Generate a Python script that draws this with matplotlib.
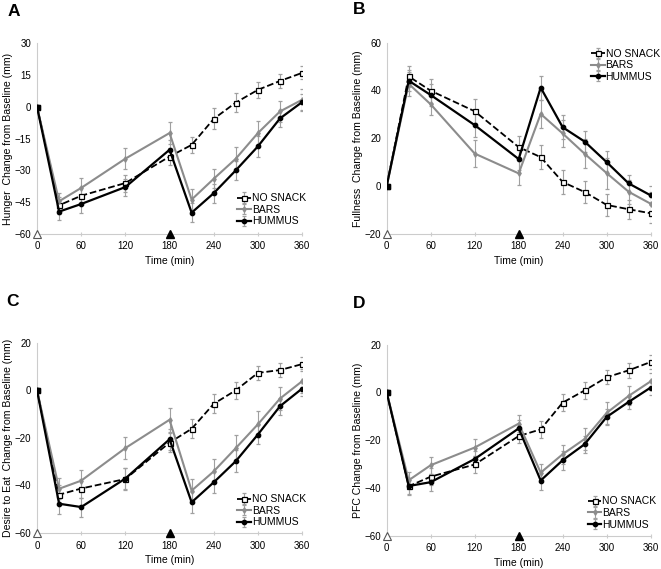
import matplotlib
matplotlib.use("Agg")
import matplotlib.pyplot as plt

plt.rcParams['font.family'] = ['Liberation Sans', 'DejaVu Sans']

time = [0, 30, 60, 120, 180, 210, 240, 270, 300, 330, 360]
series_names = ["NO SNACK", "BARS", "HUMMUS"]
snack_times = [0, 180]

# Panel A: Hunger
hunger_no = [0, -46.5, -42, -36, -23.5, -18, -5.7, 2, 8, 12.2, 16]
hunger_bars = [0, -44.6, -38.3, -24.5, -12.4, -43.8, -34, -24.5, -12.4, -2.2, 3.3]
hunger_hum = [0, -49.5, -45.9, -37.9, -20.3, -50, -40.8, -30, -18.7, -5.5, 2.2]
hunger_no_err = [0, 4, 4, 4, 4, 3.9, 4.9, 4.3, 3.7, 3.3, 3.1]
hunger_bars_err = [0, 4, 4.5, 5, 5, 5, 4.5, 5.3, 5.7, 5, 5]
hunger_hum_err = [0, 4, 4.2, 4, 4.5, 4.5, 4.5, 4.5, 5, 4, 4]

# Panel B: Fullness
full_no = [0, 45.9, 39.9, 31.3, 16.3, 12.1, 1.7, -2.5, -7.9, -9.7, -11.4]
full_bars = [0, 42.8, 34.2, 13.6, 5.3, 30.2, 22, 13.5, 5.4, -2.4, -7.4]
full_hum = [0, 44.1, 38.1, 25.5, 11.3, 41.2, 24.6, 18.6, 10, 1.1, -3.9]
full_no_err = [0, 4.5, 5, 5, 4.5, 5, 5, 4.5, 4.5, 4, 4]
full_bars_err = [0, 5, 4.5, 5.5, 5, 6, 5.5, 6, 6.5, 5, 5]
full_hum_err = [0, 4.5, 4.5, 5, 4.5, 5, 5, 4.5, 4.5, 3.5, 4]

# Panel C: Desire to Eat
desire_no = [0, -43.9, -41.3, -37.3, -22, -16.2, -5.7, 0, 7.3, 8.5, 11]
desire_bars = [0, -41.4, -38, -24.3, -12.4, -42.2, -34.1, -24.3, -14.3, -3.5, 3.8]
desire_hum = [0, -47.7, -49.1, -37.1, -20.6, -47.1, -38.7, -29.8, -18.6, -6.7, 0.7]
desire_no_err = [0, 4, 4, 4.5, 4, 4, 4, 3.5, 3, 3, 3]
desire_bars_err = [0, 4.5, 4.5, 4.5, 5, 5, 5, 5.5, 5.5, 5, 5]
desire_hum_err = [0, 4.5, 4, 4.5, 4.5, 4.5, 4.5, 4.5, 4, 3.5, 3]

# Panel D: PFC
pfc_no = [0, -39.3, -35.3, -30.2, -18.3, -15.5, -4.3, 0.8, 6.3, 9.2, 12.7]
pfc_bars = [0, -36.8, -30.5, -23.1, -13.1, -33.6, -25.9, -19.5, -8.6, -1.5, 4.6]
pfc_hum = [0, -39.2, -37.6, -27.9, -15.1, -36.9, -28.4, -21.7, -10.3, -4, 2]
pfc_no_err = [0, 3.5, 3.5, 3.5, 3, 3.5, 3.5, 3.5, 3, 3, 3]
pfc_bars_err = [0, 3.5, 3.5, 3.5, 3.5, 3.5, 4, 4.5, 4.5, 4, 3.5]
pfc_hum_err = [0, 3.5, 3.5, 3.5, 3.5, 4, 4, 3.5, 3.5, 3, 3]

W, H = 661, 569
panels = [
    dict(label="A", ylabel="Hunger  Change from Baseline (mm)",
         data=[hunger_no, hunger_bars, hunger_hum],
         err=[hunger_no_err, hunger_bars_err, hunger_hum_err],
         ylim=(-60, 30), yticks=[-60, -45, -30, -15, 0, 15, 30],
         pos=[0.056, 0.589, 0.401, 0.335], leg=(0.755, 0.126), lab=(8, 11)),
    dict(label="B", ylabel="Fullness  Change from Baseline (mm)",
         data=[full_no, full_bars, full_hum],
         err=[full_no_err, full_bars_err, full_hum_err],
         ylim=(-20, 60), yticks=[-20, 0, 20, 40, 60],
         pos=[0.585, 0.589, 0.3994, 0.336], leg=(0.774, 0.882), lab=(353, 10)),
    dict(label="C", ylabel="Desire to Eat  Change from Baseline (mm)",
         data=[desire_no, desire_bars, desire_hum],
         err=[desire_no_err, desire_bars_err, desire_hum_err],
         ylim=(-60, 20), yticks=[-60, -40, -20, 0, 20],
         pos=[0.056, 0.0633, 0.401, 0.3344], leg=(0.755, 0.116), lab=(6, 302)),
    dict(label="D", ylabel="PFC Change from Baseline (mm)",
         data=[pfc_no, pfc_bars, pfc_hum],
         err=[pfc_no_err, pfc_bars_err, pfc_hum_err],
         ylim=(-60, 20), yticks=[-60, -40, -20, 0, 20],
         pos=[0.585, 0.0585, 0.3994, 0.336], leg=(0.762, 0.119), lab=(353, 304)),
]

styles = [
    dict(color="black", ls="--", marker="s", mfc="white", mec="black", ms=3.6, lw=1.3),
    dict(color="#8c8c8c", ls="-", marker="d", mfc="#8c8c8c", mec="#8c8c8c", ms=2.8, lw=1.5),
    dict(color="black", ls="-", marker="o", mfc="black", mec="black", ms=3.2, lw=1.6),
]

fig = plt.figure(figsize=(W / 100, H / 100), dpi=100)

for p in panels:
    ax = fig.add_axes(p["pos"])
    for name, y, e, st in zip(series_names, p["data"], p["err"], styles):
        ax.errorbar(time, y, yerr=e, color=st["color"], ls=st["ls"], lw=st["lw"],
                    marker=st["marker"], mfc=st["mfc"], mec=st["mec"], ms=st["ms"],
                    mew=0.9, ecolor="#a0a0a0", elinewidth=0.8, capsize=1.2,
                    capthick=0.8, label=name, zorder=3)
    ax.plot(time[0], 0, marker="s", color="black", ms=3.6, zorder=5)
    ymin = p["ylim"][0]
    ax.plot([snack_times[0]], [ymin], marker="^", mfc="white", mec="#555555",
            ms=5.8, mew=0.8, ls="none", clip_on=False, zorder=6)
    ax.plot([snack_times[1]], [ymin], marker="^", mfc="black", mec="black",
            ms=5.8, ls="none", clip_on=False, zorder=6)
    ax.set_xlim(0, 360)
    ax.set_ylim(*p["ylim"])
    ax.set_xticks([0, 60, 120, 180, 240, 300, 360])
    ax.set_yticks(p["yticks"])
    for s in ["top", "right"]:
        ax.spines[s].set_visible(False)
    for s in ["left", "bottom"]:
        ax.spines[s].set_color("#cccccc")
        ax.spines[s].set_linewidth(0.8)
    ax.tick_params(axis="x", direction="inout", length=3, color="#cccccc",
                   labelsize=7, pad=4)
    ax.tick_params(axis="y", length=0, labelsize=7, pad=4)
    ax.set_xlabel("Time (min)", fontsize=7.5, labelpad=3)
    ax.set_ylabel(p["ylabel"], fontsize=7.6, labelpad=1)
    ax.legend(loc="center left", bbox_to_anchor=p["leg"], frameon=False,
              fontsize=7.5, handlelength=1.3, handletextpad=0.1,
              labelspacing=0.15, borderpad=0, borderaxespad=0)
    lx, ly = p["lab"]
    fig.text(lx / W, 1 - ly / H, p["label"], fontsize=12.5, fontweight="bold",
             va="center", ha="left")

fig.savefig("out.png", dpi=100)
